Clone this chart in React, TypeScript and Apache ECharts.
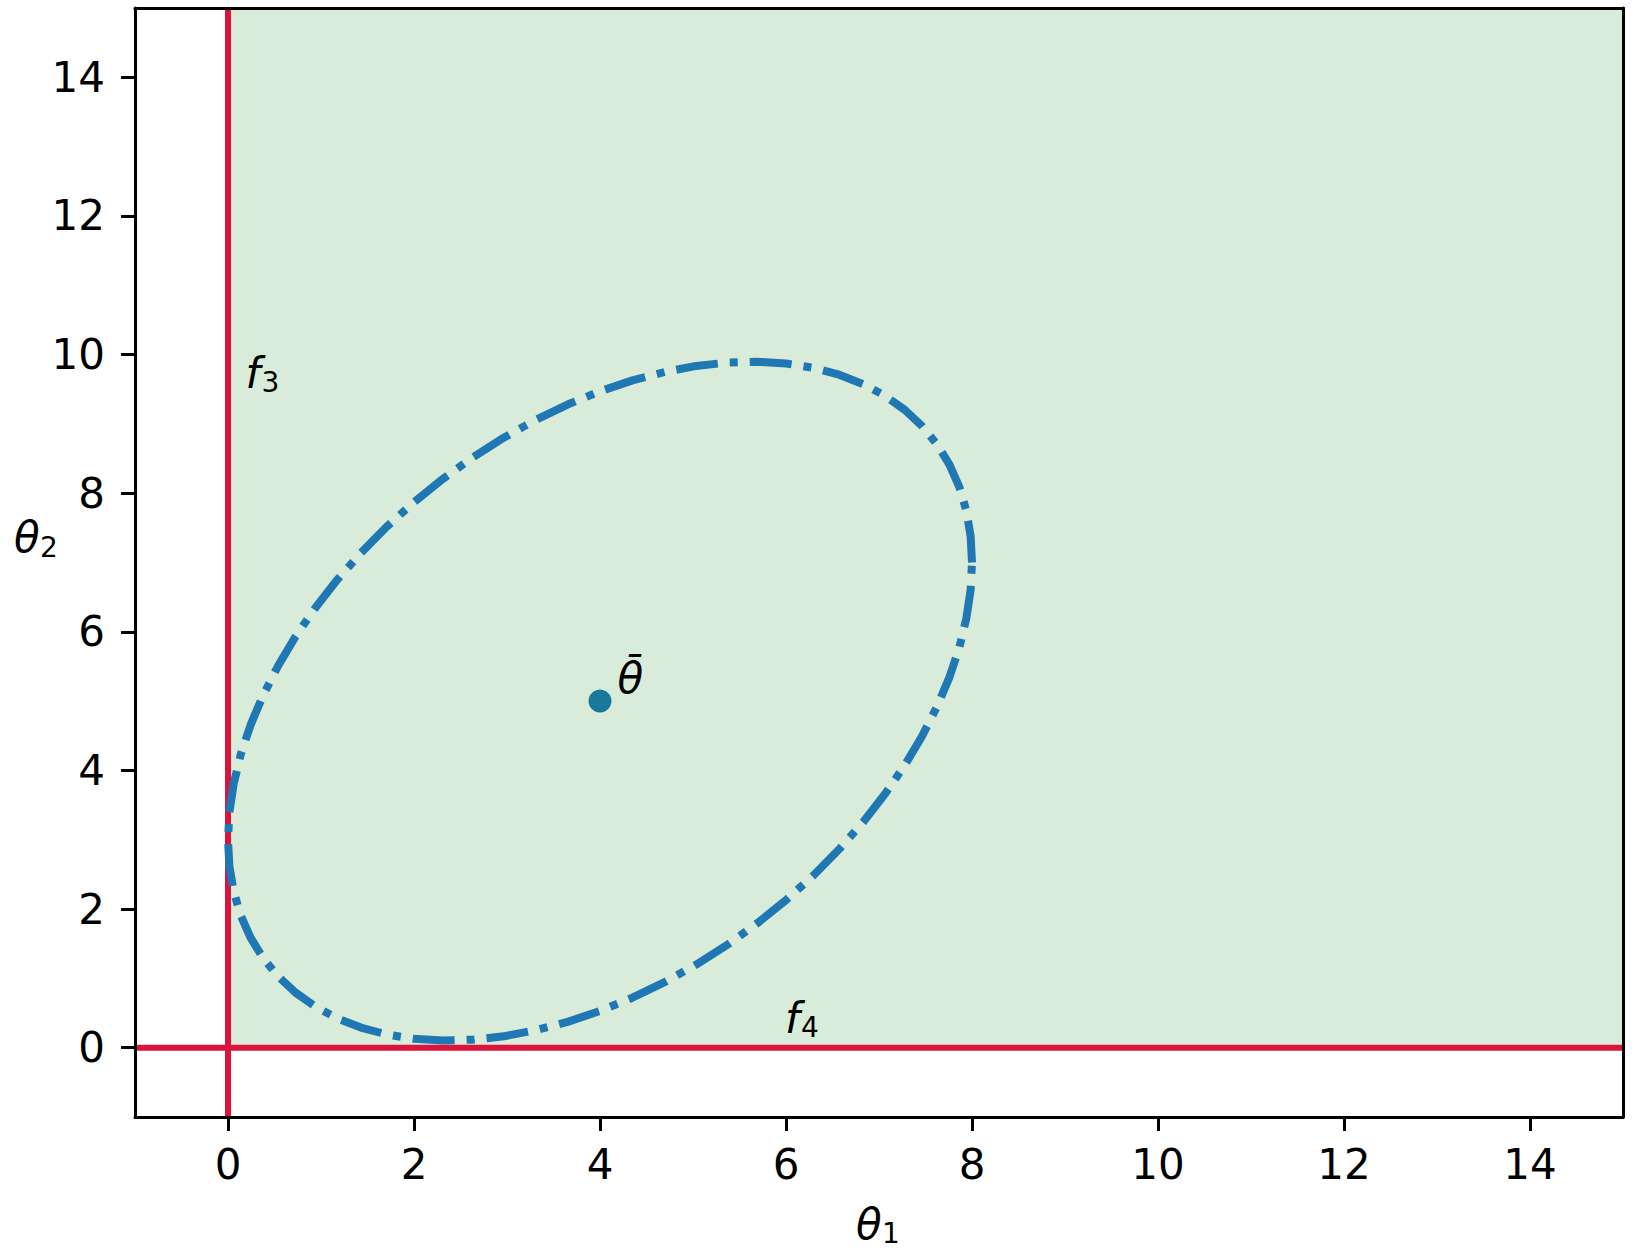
import React, { useEffect, useRef } from "react";
import * as echarts from "echarts";

// Ellipse (confidence region) points: [theta1, theta2]
const ellipseX = [
  8.0, 7.985, 7.939, 7.864, 7.759, 7.625, 7.464, 7.277, 7.064, 6.828, 6.571, 6.294,
  6.0, 5.69, 5.368, 5.035, 4.695, 4.349, 4.0, 3.651, 3.305, 2.965, 2.632, 2.31,
  2.0, 1.706, 1.429, 1.172, 0.936, 0.723, 0.536, 0.375, 0.241, 0.136, 0.061, 0.015,
  0.0, 0.015, 0.061, 0.136, 0.241, 0.375, 0.536, 0.723, 0.936, 1.172, 1.429, 1.706,
  2.0, 2.31, 2.632, 2.965, 3.305, 3.651, 4.0, 4.349, 4.695, 5.035, 5.368, 5.69,
  6.0, 6.294, 6.571, 6.828, 7.064, 7.277, 7.464, 7.625, 7.759, 7.864, 7.939, 7.985, 8.0,
];
const ellipseY = [
  7.0, 7.382, 7.746, 8.089, 8.408, 8.702, 8.967, 9.202, 9.405, 9.575, 9.71, 9.809,
  9.871, 9.896, 9.884, 9.836, 9.749, 9.627, 9.47, 9.279, 9.055, 8.8, 8.516, 8.206,
  7.871, 7.515, 7.138, 6.747, 6.341, 5.926, 5.503, 5.076, 4.65, 4.225, 3.806, 3.398,
  3.0, 2.618, 2.254, 1.911, 1.592, 1.298, 1.033, 0.798, 0.595, 0.425, 0.29, 0.191,
  0.129, 0.104, 0.116, 0.164, 0.251, 0.373, 0.53, 0.721, 0.945, 1.2, 1.484, 1.794,
  2.129, 2.485, 2.862, 3.253, 3.659, 4.074, 4.497, 4.924, 5.35, 5.775, 6.194, 6.602, 7.0,
];
const centerPoint = [4, 5];
const feasibleRegion = { x: [0, 15], y: [0, 15] };
const constraintF3X = 0; // vertical line theta1 = 0
const constraintF4Y = 0; // horizontal line theta2 = 0
const axisRange = [-1, 15];
const tickValues = [0, 2, 4, 6, 8, 10, 12, 14];
const annotations = [
  { main: "f", sub: "3", x: 0.2, y: 9.5 },
  { main: "f", sub: "4", x: 6.0, y: 0.2 },
  { main: "θ\u0304", sub: "", x: 4.2, y: 5.1 },
];

const FONT = "DejaVu Sans";
const FS = 42;
const SUB_FS = 28;

export default function App() {
  const ref = useRef<HTMLDivElement>(null);
  useEffect(() => {
    if (!ref.current) return;
    const chart = echarts.init(ref.current, undefined, { renderer: "svg" });
    const axisCommon = {
      type: "value" as const,
      min: axisRange[0],
      max: axisRange[1],
      splitLine: { show: false },
      z: 5,
      axisLine: { show: true, onZero: false, lineStyle: { color: "#000", width: 3 } },
    };
    const option: any = {
      animation: false,
      backgroundColor: "#fff",
      grid: { left: 135, top: 8, right: 12, bottom: 143, containLabel: false },
      xAxis: [
        {
          ...axisCommon,
          position: "bottom",
          axisTick: { show: true, length: 14, lineStyle: { color: "#000", width: 3 }, customValues: tickValues },
          axisLabel: {
            show: true,
            customValues: tickValues,
            fontFamily: FONT,
            fontSize: FS,
            color: "#000",
            margin: 26,
          },
        },
        {
          ...axisCommon,
          position: "top",
          axisTick: { show: false },
          axisLabel: { show: false },
        },
      ],
      yAxis: [
        {
          ...axisCommon,
          position: "left",
          axisTick: { show: true, length: 14, lineStyle: { color: "#000", width: 3 }, customValues: tickValues },
          axisLabel: {
            show: true,
            customValues: tickValues,
            fontFamily: FONT,
            fontSize: FS,
            color: "#000",
            margin: 30,
          },
        },
        {
          ...axisCommon,
          position: "right",
          axisTick: { show: false },
          axisLabel: { show: false },
        },
      ],
      series: [
        {
          type: "line",
          data: [],
          silent: true,
          markArea: {
            silent: true,
            itemStyle: { color: "#d9ecd9", opacity: 1 },
            data: [
              [
                { coord: [feasibleRegion.x[0], feasibleRegion.y[0]] },
                { coord: [feasibleRegion.x[1], feasibleRegion.y[1]] },
              ],
            ],
          },
          z: 1,
        },
        {
          type: "line",
          data: [
            [constraintF3X, axisRange[0]],
            [constraintF3X, axisRange[1]],
          ],
          showSymbol: false,
          lineStyle: { color: "#dc143c", width: 6 },
          z: 3,
        },
        {
          type: "line",
          data: [
            [axisRange[0], constraintF4Y],
            [axisRange[1], constraintF4Y],
          ],
          showSymbol: false,
          lineStyle: { color: "#dc143c", width: 6 },
          z: 3,
        },
        {
          type: "line",
          data: ellipseX.map((x, i) => [x, ellipseY[i]]),
          smooth: false,
          showSymbol: false,
          lineStyle: { color: "#1f77b4", width: 8, type: [42, 12, 8, 12], cap: "butt", join: "round" },
          z: 4,
        },
        {
          type: "scatter",
          data: [centerPoint],
          symbolSize: 23,
          itemStyle: { color: "#1a7899", opacity: 1 },
          z: 8,
        },
      ],
    };
    chart.setOption(option);

    const central = (fs: number) => 0.346 * fs;
    const elems: any[] = [];
    const addMath = (left: number, base: number, main: string, sub: string, subLeft: number, subBase: number) => {
      elems.push({
        type: "text",
        x: left,
        y: base - central(FS),
        z: 20,
        style: { text: main, font: `italic ${FS}px "${FONT}"`, fill: "#000", align: "left", verticalAlign: "middle" },
      });
      if (sub) {
        elems.push({
          type: "text",
          x: subLeft,
          y: subBase - central(SUB_FS),
          z: 20,
          style: { text: sub, font: `${SUB_FS}px "${FONT}"`, fill: "#000", align: "left", verticalAlign: "middle" },
        });
      }
    };
    annotations.forEach((a) => {
      const p = chart.convertToPixel({ gridIndex: 0 }, [a.x, a.y]) as number[];
      addMath(p[0] - 1, p[1] - 1, a.main, a.sub, p[0] + 15, p[1] + 3);
    });
    addMath(856, 1239, "θ", "1", 882, 1243);
    addMath(14, 552, "θ", "2", 40, 557);
    chart.setOption({ graphic: elems });

    return () => chart.dispose();
  }, []);
  return (
    <div
      ref={ref}
      style={{ position: "fixed", left: 0, top: 0, width: 1635, height: 1260, background: "#fff" }}
    />
  );
}
